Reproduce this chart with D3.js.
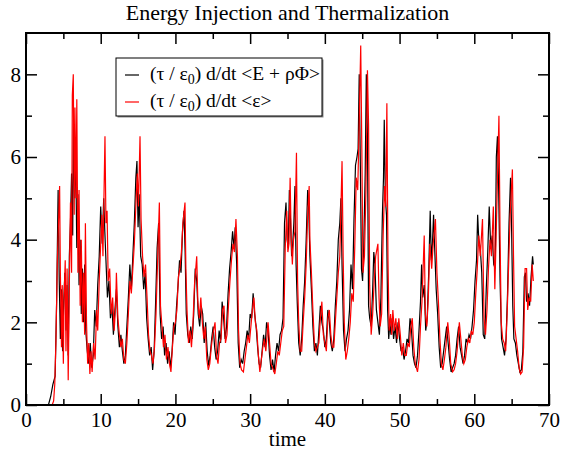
<!DOCTYPE html>
<html>
<head>
<meta charset="utf-8">
<script src="https://cdn.jsdelivr.net/npm/d3@7"></script>
<style>
  body { margin: 0; background: #fff; }
  svg { display: block; }
  .axis path { display: none; }
  .axis line { stroke: #000; stroke-width: 1.5; }
</style>
</head>
<body>
<svg id="chart"></svg>
<script>
// declare the size of the diagram
var width = 566;
var height = 451;
var margin = { top: 33, right: 17, bottom: 46, left: 26 };
var serif = "'Liberation Serif', 'Times New Roman', serif";

var title = "Energy Injection and Thermalization";
var xLabel = "time";

var xMajorTicks = [0, 10, 20, 30, 40, 50, 60, 70];
var xMinorTicks = [5, 15, 25, 35, 45, 55, 65];
var yMajorTicks = [0, 2, 4, 6, 8];
var yMinorTicks = [1, 3, 5, 7];

// (tau/eps0) d/dt <E + rho Phi>   -- black, [time, value]
var energyRate = [
  [0, 0], [3.0, 0], [3.3, 0.2], [3.6, 0.5], [3.9, 0.7], [4.1, 2.5], [4.3, 5.2], [4.45, 3.0], [4.6, 1.6],
  [4.75, 2.8], [4.9, 1.3], [5.05, 2.5], [5.2, 3.2], [5.35, 1.8], [5.5, 2.9], [5.65, 1.2], [5.8, 3.6],
  [5.95, 4.4], [6.1, 5.6], [6.25, 4.1], [6.35, 6.9], [6.5, 5.0], [6.65, 6.2], [6.8, 3.8], [6.95, 5.1],
  [7.1, 2.9], [7.25, 4.0], [7.4, 2.2], [7.55, 3.3], [7.7, 2.0], [7.85, 3.4], [8.0, 1.8], [8.2, 1.3],
  [8.4, 1.0], [8.6, 1.5], [8.8, 0.9], [9.0, 1.2], [9.2, 2.3], [9.4, 1.9], [9.6, 2.9], [9.8, 3.6],
  [10.0, 4.8], [10.2, 3.9], [10.4, 5.0], [10.55, 4.2], [10.7, 3.5], [10.9, 2.6], [11.1, 3.0], [11.3, 2.1],
  [11.5, 2.4], [11.7, 1.7], [11.9, 2.3], [12.1, 2.8], [12.3, 1.9], [12.5, 1.4], [12.7, 1.7], [12.9, 1.3],
  [13.1, 1.0], [13.3, 1.2], [13.5, 1.9], [13.7, 2.6], [13.9, 3.4], [14.1, 2.8], [14.3, 3.6], [14.5, 4.4],
  [14.7, 5.5], [14.85, 5.9], [15.0, 4.3], [15.15, 5.1], [15.35, 3.6], [15.55, 3.4], [15.75, 2.8],
  [15.95, 3.2], [16.15, 2.1], [16.35, 1.6], [16.55, 1.2], [16.75, 1.4], [16.95, 0.85], [17.15, 1.3],
  [17.35, 2.5], [17.55, 3.8], [17.75, 4.4], [17.95, 2.2], [18.15, 1.6], [18.35, 1.9], [18.55, 1.2],
  [18.75, 1.5], [18.95, 1.0], [19.15, 1.3], [19.35, 0.9], [19.55, 1.3], [19.75, 2.0], [19.95, 1.7],
  [20.15, 2.4], [20.35, 2.9], [20.55, 3.5], [20.75, 3.2], [20.95, 4.2], [21.15, 4.7], [21.3, 3.7],
  [21.45, 2.2], [21.65, 1.7], [21.85, 1.5], [22.05, 1.9], [22.25, 1.6], [22.45, 2.2], [22.65, 3.3],
  [22.85, 3.0], [23.05, 2.2], [23.25, 1.9], [23.45, 2.4], [23.65, 2.2], [23.85, 1.5], [24.05, 2.0],
  [24.25, 1.3], [24.45, 0.95], [24.65, 1.2], [24.85, 1.6], [25.05, 1.9], [25.25, 1.4], [25.45, 1.1],
  [25.65, 1.3], [25.85, 1.8], [26.05, 1.5], [26.25, 2.5], [26.45, 2.1], [26.65, 1.6], [26.85, 1.9],
  [27.05, 2.7], [27.25, 3.3], [27.45, 3.7], [27.65, 4.2], [27.85, 3.8], [28.0, 4.3], [28.2, 3.4],
  [28.4, 1.5], [28.6, 0.9], [28.8, 1.1], [29.0, 1.0], [29.2, 1.3], [29.4, 1.5], [29.6, 1.8], [29.8, 1.6],
  [30.0, 2.2], [30.2, 2.1], [30.4, 2.7], [30.6, 2.2], [30.8, 1.9], [31.0, 1.4], [31.2, 1.0], [31.4, 0.9],
  [31.6, 1.3], [31.8, 1.7], [32.0, 1.4], [32.2, 2.0], [32.4, 1.8], [32.6, 1.2], [32.8, 0.85], [33.0, 1.1],
  [33.2, 0.8], [33.4, 1.2], [33.6, 1.5], [33.8, 1.3], [34.0, 1.7], [34.2, 1.8], [34.4, 2.1], [34.6, 4.4],
  [34.8, 4.9], [34.95, 4.0], [35.1, 3.8], [35.25, 5.2], [35.4, 4.5], [35.55, 3.6], [35.7, 3.9],
  [35.85, 4.4], [36.0, 5.3], [36.15, 3.4], [36.3, 2.5], [36.5, 1.5], [36.7, 1.2], [36.9, 1.6], [37.1, 2.4],
  [37.3, 3.0], [37.5, 4.0], [37.7, 5.2], [37.85, 4.7], [38.0, 3.6], [38.2, 2.8], [38.4, 1.9], [38.6, 1.3],
  [38.8, 1.5], [39.0, 1.2], [39.2, 1.8], [39.4, 2.4], [39.6, 2.0], [39.8, 1.8], [40.0, 1.4], [40.2, 1.6],
  [40.4, 2.3], [40.6, 2.0], [40.8, 1.5], [41.0, 1.3], [41.2, 1.6], [41.4, 2.4], [41.6, 3.0], [41.8, 4.0],
  [42.0, 4.4], [42.15, 5.0], [42.3, 3.4], [42.5, 1.8], [42.7, 1.3], [42.9, 1.6], [43.1, 1.8], [43.3, 2.3],
  [43.5, 3.4], [43.7, 2.8], [43.9, 4.5], [44.1, 5.8], [44.3, 6.0], [44.45, 6.2], [44.6, 8.0], [44.75, 5.8],
  [44.9, 3.3], [45.05, 3.0], [45.2, 3.8], [45.4, 5.6], [45.55, 8.0], [45.7, 6.5], [45.85, 2.4], [46.0, 2.1],
  [46.2, 1.9], [46.4, 2.8], [46.55, 3.7], [46.7, 3.4], [46.9, 2.3], [47.1, 2.0], [47.3, 1.7], [47.5, 2.6],
  [47.7, 4.6], [47.85, 5.5], [47.95, 6.9], [48.1, 5.0], [48.25, 4.6], [48.4, 2.3], [48.55, 1.6],
  [48.7, 2.0], [48.85, 1.7], [49.0, 2.1], [49.2, 1.6], [49.4, 1.9], [49.6, 1.5], [49.8, 2.0], [50.0, 1.6],
  [50.2, 1.3], [50.4, 1.4], [50.6, 1.1], [50.8, 1.3], [51.0, 1.6], [51.2, 1.5], [51.4, 2.1], [51.6, 1.8],
  [51.8, 1.2], [52.0, 1.0], [52.2, 0.9], [52.4, 1.2], [52.6, 1.8], [52.8, 2.5], [52.95, 3.4], [53.1, 2.6],
  [53.3, 2.9], [53.5, 1.8], [53.7, 2.1], [53.9, 3.2], [54.1, 4.7], [54.25, 3.5], [54.4, 3.9], [54.55, 4.6],
  [54.7, 3.8], [54.9, 2.8], [55.1, 2.2], [55.3, 1.4], [55.5, 0.9], [55.7, 1.0], [55.9, 1.3], [56.1, 1.6],
  [56.3, 1.9], [56.5, 1.5], [56.7, 1.1], [56.9, 0.8], [57.1, 0.9], [57.3, 1.0], [57.5, 1.2], [57.7, 1.6],
  [57.9, 1.9], [58.1, 1.4], [58.3, 1.2], [58.5, 1.0], [58.7, 1.2], [58.9, 1.6], [59.1, 1.5], [59.3, 1.7],
  [59.5, 1.6], [59.7, 1.9], [59.9, 2.3], [60.1, 3.0], [60.3, 3.5], [60.45, 4.6], [60.6, 4.0], [60.8, 3.8],
  [61.0, 3.2], [61.2, 1.7], [61.4, 1.6], [61.6, 2.8], [61.8, 3.7], [62.0, 4.8], [62.2, 3.8], [62.4, 4.1],
  [62.6, 3.4], [62.8, 3.3], [62.95, 6.0], [63.1, 6.5], [63.25, 5.4], [63.45, 3.0], [63.65, 1.6],
  [63.85, 1.4], [64.05, 1.2], [64.25, 1.6], [64.45, 2.7], [64.65, 4.4], [64.85, 5.5], [65.0, 4.2],
  [65.15, 2.4], [65.3, 1.6], [65.5, 1.5], [65.7, 1.2], [65.9, 1.0], [66.1, 0.8], [66.3, 0.85], [66.5, 1.3],
  [66.7, 3.1], [66.85, 3.2], [67.0, 2.5], [67.2, 2.7], [67.4, 2.4], [67.6, 3.1], [67.8, 3.6], [67.9, 3.4]
];

// (tau/eps0) d/dt <epsilon>   -- red, [time, value]
var thermalRate = [
  [0, 0], [3.5, 0], [3.7, 0.1], [3.85, 0.5], [4.0, 1.5], [4.2, 3.5], [4.5, 5.3], [4.6, 3.2], [4.75, 1.4],
  [4.85, 2.9], [5.0, 1.0], [5.1, 2.6], [5.25, 3.5], [5.35, 1.3], [5.5, 3.3], [5.65, 0.6], [5.8, 2.9],
  [5.95, 4.9], [6.1, 3.2], [6.2, 7.5], [6.33, 8.0], [6.45, 4.6], [6.55, 7.2], [6.7, 5.0], [6.8, 7.4],
  [6.95, 3.2], [7.1, 5.2], [7.25, 2.4], [7.4, 4.0], [7.55, 2.0], [7.7, 3.2], [7.85, 1.7], [7.95, 4.4],
  [8.1, 2.0], [8.25, 1.0], [8.4, 1.5], [8.55, 0.75], [8.7, 1.3], [8.85, 0.8], [9.05, 1.5], [9.25, 1.1],
  [9.45, 2.3], [9.6, 1.8], [9.8, 3.0], [10.0, 3.9], [10.15, 4.6], [10.3, 3.6], [10.45, 5.2], [10.57, 6.5],
  [10.7, 4.4], [10.85, 4.7], [11.0, 3.0], [11.2, 3.3], [11.4, 2.2], [11.6, 2.6], [11.8, 1.8], [12.0, 2.4],
  [12.1, 3.2], [12.3, 2.1], [12.5, 1.7], [12.7, 1.4], [12.9, 1.6], [13.1, 1.1], [13.3, 1.0], [13.5, 1.5],
  [13.7, 2.2], [13.9, 3.0], [14.1, 2.7], [14.3, 3.3], [14.5, 3.9], [14.7, 4.8], [14.9, 5.6], [15.05, 4.8],
  [15.26, 6.5], [15.4, 4.5], [15.6, 3.6], [15.8, 3.1], [16.0, 3.4], [16.2, 2.6], [16.4, 1.7], [16.6, 1.3],
  [16.8, 1.2], [17.0, 1.0], [17.2, 1.4], [17.4, 2.2], [17.6, 3.4], [17.85, 4.9], [18.0, 2.4], [18.2, 1.9],
  [18.4, 1.4], [18.6, 1.7], [18.8, 1.1], [19.0, 1.4], [19.2, 1.0], [19.4, 0.8], [19.6, 1.4], [19.8, 1.9],
  [20.0, 2.0], [20.2, 2.3], [20.4, 3.1], [20.6, 3.3], [20.8, 3.7], [21.0, 4.4], [21.28, 4.9], [21.4, 3.3],
  [21.55, 2.3], [21.75, 1.5], [21.95, 1.8], [22.15, 1.4], [22.35, 2.0], [22.55, 2.9], [22.85, 3.6],
  [23.0, 2.5], [23.2, 2.1], [23.4, 2.6], [23.6, 2.0], [23.8, 1.6], [24.0, 1.9], [24.2, 1.1], [24.4, 0.85],
  [24.6, 1.0], [24.8, 1.4], [25.0, 1.7], [25.3, 2.0], [25.5, 1.2], [25.7, 1.0], [25.9, 1.5], [26.1, 1.6],
  [26.3, 2.3], [26.5, 2.4], [26.7, 1.5], [26.9, 1.7], [27.1, 2.4], [27.3, 3.0], [27.5, 3.5], [27.7, 3.9],
  [27.9, 3.7], [28.1, 4.5], [28.3, 3.6], [28.45, 1.8], [28.65, 1.0], [28.85, 0.85], [29.1, 0.8],
  [29.3, 1.1], [29.5, 1.4], [29.7, 1.7], [29.9, 1.5], [30.1, 1.9], [30.3, 2.3], [30.5, 2.6], [30.7, 2.0],
  [30.9, 1.8], [31.1, 1.2], [31.3, 0.8], [31.5, 1.1], [31.7, 1.4], [31.9, 1.6], [32.1, 1.3], [32.4, 2.0],
  [32.6, 1.5], [32.8, 1.0], [33.0, 0.9], [33.3, 0.75], [33.5, 1.0], [33.7, 1.3], [33.9, 1.2], [34.1, 1.5],
  [34.3, 1.8], [34.5, 1.9], [34.7, 3.8], [34.9, 4.7], [35.05, 3.7], [35.2, 3.9], [35.35, 5.5], [35.5, 4.0],
  [35.65, 3.4], [35.8, 4.0], [36.0, 4.2], [36.2, 6.1], [36.35, 3.0], [36.5, 2.0], [36.7, 1.3], [36.9, 1.3],
  [37.1, 2.0], [37.3, 2.6], [37.5, 3.4], [37.7, 4.6], [37.9, 5.3], [38.0, 4.0], [38.2, 3.2], [38.4, 2.3],
  [38.6, 1.5], [38.8, 1.3], [39.0, 1.4], [39.2, 1.5], [39.4, 2.1], [39.6, 2.5], [39.8, 1.7], [40.0, 1.5],
  [40.2, 1.3], [40.4, 2.1], [40.6, 2.3], [40.8, 1.7], [41.0, 1.4], [41.2, 1.4], [41.4, 2.0], [41.6, 2.6],
  [41.8, 3.2], [42.0, 3.6], [42.3, 5.9], [42.45, 3.6], [42.6, 2.0], [42.8, 1.1], [43.0, 1.3], [43.2, 1.6],
  [43.4, 2.0], [43.6, 2.7], [43.8, 2.5], [44.0, 3.8], [44.2, 5.5], [44.4, 5.2], [44.55, 6.4], [44.8, 8.7],
  [44.95, 6.2], [45.1, 3.2], [45.3, 3.6], [45.5, 5.2], [45.7, 8.1], [45.85, 6.8], [46.0, 2.9], [46.2, 1.7],
  [46.4, 2.2], [46.6, 3.0], [46.8, 3.6], [47.1, 3.9], [47.25, 2.6], [47.4, 1.9], [47.6, 2.2], [47.8, 4.1],
  [48.0, 5.3], [48.15, 4.8], [48.3, 7.3], [48.45, 3.5], [48.6, 1.8], [48.8, 2.2], [48.95, 1.7], [49.1, 2.3],
  [49.3, 1.8], [49.5, 2.1], [49.7, 1.6], [49.9, 2.1], [50.1, 1.7], [50.3, 1.2], [50.5, 1.5], [50.7, 1.2],
  [50.9, 1.2], [51.1, 1.5], [51.3, 1.4], [51.5, 1.9], [51.7, 2.1], [51.9, 1.4], [52.1, 1.0], [52.4, 0.8],
  [52.6, 1.1], [52.8, 1.9], [53.0, 2.5], [53.3, 4.1], [53.45, 2.2], [53.65, 1.9], [53.85, 2.6], [54.05, 3.9],
  [54.3, 3.3], [54.5, 3.9], [54.8, 4.5], [55.0, 3.2], [55.2, 2.5], [55.4, 1.6], [55.6, 1.0], [55.8, 0.85],
  [56.0, 1.1], [56.2, 1.4], [56.45, 2.0], [56.65, 1.6], [56.85, 1.0], [57.1, 0.8], [57.3, 0.85], [57.5, 1.0],
  [57.7, 1.3], [58.0, 2.0], [58.2, 1.6], [58.4, 1.2], [58.6, 1.0], [58.8, 1.1], [59.0, 1.4], [59.2, 1.6],
  [59.4, 1.5], [59.6, 1.8], [59.8, 1.7], [60.0, 2.0], [60.2, 2.7], [60.4, 3.3], [60.6, 4.1], [60.8, 3.6],
  [61.1, 4.5], [61.3, 2.1], [61.5, 1.7], [61.7, 2.3], [61.9, 3.3], [62.1, 4.0], [62.3, 3.6], [62.55, 4.8],
  [62.75, 2.8], [62.9, 3.9], [63.3, 7.0], [63.45, 4.1], [63.6, 2.0], [63.8, 1.6], [64.0, 1.5], [64.2, 1.3],
  [64.4, 2.2], [64.6, 3.4], [64.8, 4.6], [65.1, 5.7], [65.25, 3.6], [65.4, 1.9], [65.6, 1.6], [65.8, 1.3],
  [66.0, 0.9], [66.2, 0.75], [66.4, 0.8], [66.6, 1.4], [66.8, 3.3], [67.0, 3.3], [67.15, 2.3], [67.35, 2.6],
  [67.55, 2.5], [67.75, 3.4], [67.9, 3.0]
];

var svg = d3.select("#chart")
    .attr("width", width)
    .attr("height", height);

svg.append("rect")
    .attr("width", width)
    .attr("height", height)
    .attr("fill", "#fff");

var innerW = width - margin.left - margin.right;
var innerH = height - margin.top - margin.bottom;

var x = d3.scaleLinear().domain([0, 70]).range([margin.left, margin.left + innerW]);
var y = d3.scaleLinear().domain([0, 9]).range([margin.top + innerH, margin.top]);

// clip so lines stay inside the frame
svg.append("clipPath")
    .attr("id", "plotclip")
    .append("rect")
    .attr("x", margin.left)
    .attr("y", margin.top)
    .attr("width", innerW)
    .attr("height", innerH);

var line = d3.line()
    .x((d) => x(d[0]))
    .y((d) => y(d[1]));

var lines = svg.append("g").attr("clip-path", "url(#plotclip)");

lines.append("path")
    .datum(energyRate)
    .attr("fill", "none")
    .attr("stroke", "#000")
    .attr("stroke-width", 1.2)
    .attr("d", line);

lines.append("path")
    .datum(thermalRate)
    .attr("fill", "none")
    .attr("stroke", "#ff0000")
    .attr("stroke-width", 1.2)
    .attr("d", line);

// axes, ticks point inward on all four sides
var bottom = margin.top + innerH;
var right = margin.left + innerW;

function styleLabels(g) {
    g.selectAll("text")
        .attr("fill", "#000")
        .style("font-family", serif)
        .style("font-size", "21px");
}

svg.append("g").attr("class", "axis")
    .attr("transform", "translate(0," + bottom + ")")
    .call(d3.axisBottom(x).tickValues(xMajorTicks).tickSize(-11).tickPadding(7).tickFormat(d3.format("d")))
    .call(styleLabels);
svg.append("g").attr("class", "axis")
    .attr("transform", "translate(0," + bottom + ")")
    .call(d3.axisBottom(x).tickValues(xMinorTicks).tickSize(-6).tickFormat(""));
svg.append("g").attr("class", "axis")
    .attr("transform", "translate(0," + margin.top + ")")
    .call(d3.axisTop(x).tickValues(xMajorTicks).tickSize(-11).tickFormat(""));
svg.append("g").attr("class", "axis")
    .attr("transform", "translate(0," + margin.top + ")")
    .call(d3.axisTop(x).tickValues(xMinorTicks).tickSize(-6).tickFormat(""));

svg.append("g").attr("class", "axis")
    .attr("transform", "translate(" + margin.left + ",0)")
    .call(d3.axisLeft(y).tickValues(yMajorTicks).tickSize(-11).tickPadding(5).tickFormat(d3.format("d")))
    .call(styleLabels);
svg.append("g").attr("class", "axis")
    .attr("transform", "translate(" + margin.left + ",0)")
    .call(d3.axisLeft(y).tickValues(yMinorTicks).tickSize(-6).tickFormat(""));
svg.append("g").attr("class", "axis")
    .attr("transform", "translate(" + right + ",0)")
    .call(d3.axisRight(y).tickValues(yMajorTicks).tickSize(-11).tickFormat(""));
svg.append("g").attr("class", "axis")
    .attr("transform", "translate(" + right + ",0)")
    .call(d3.axisRight(y).tickValues(yMinorTicks).tickSize(-6).tickFormat(""));

// frame
svg.append("rect")
    .attr("x", margin.left)
    .attr("y", margin.top)
    .attr("width", innerW)
    .attr("height", innerH)
    .attr("fill", "none")
    .attr("stroke", "#000")
    .attr("stroke-width", 2);

// title and axis label
svg.append("text")
    .attr("x", margin.left + innerW / 2)
    .attr("y", 20)
    .attr("text-anchor", "middle")
    .style("font-family", serif)
    .style("font-size", "22px")
    .text(title);

svg.append("text")
    .attr("x", margin.left + innerW / 2)
    .attr("y", 446)
    .attr("text-anchor", "middle")
    .style("font-family", serif)
    .style("font-size", "21px")
    .text(xLabel);

// legend
var legend = svg.append("g").attr("transform", "translate(116,58)");

legend.append("rect")
    .attr("x", 1.5)
    .attr("y", 1.5)
    .attr("width", 206)
    .attr("height", 58)
    .attr("fill", "#888");

legend.append("rect")
    .attr("width", 206)
    .attr("height", 58)
    .attr("fill", "#fff")
    .attr("stroke", "#000")
    .attr("stroke-width", 1);

var legendItems = [
  { color: "#000", tail: ") d/dt <E + \u03c1\u03a6>" },
  { color: "#ff0000", tail: ") d/dt <\u03b5>" }
];

legendItems.forEach(function (item, i) {
    var ly = 17 + i * 27;
    legend.append("line")
        .attr("x1", 9).attr("x2", 23)
        .attr("y1", ly).attr("y2", ly)
        .attr("stroke", item.color)
        .attr("stroke-width", 1.2);

    var t = legend.append("text")
        .attr("x", 34)
        .attr("y", ly + 5)
        .style("font-family", serif)
        .style("font-size", "19.5px");
    t.append("tspan").text("(\u03c4 / \u03b5");
    t.append("tspan").attr("dy", 4).style("font-size", "14px").text("0");
    t.append("tspan").attr("dy", -4).text(item.tail);
});
</script>
</body>
</html>
